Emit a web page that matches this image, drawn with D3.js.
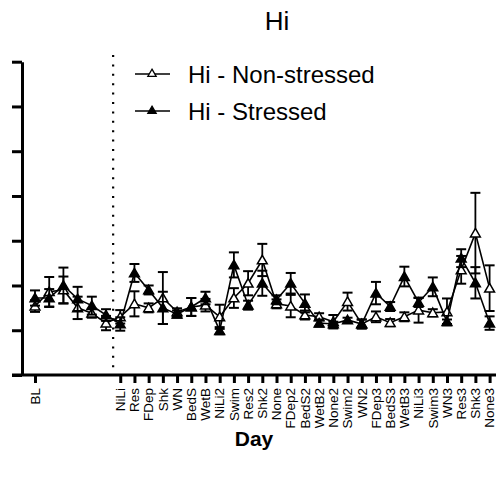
<!DOCTYPE html>
<html><head><meta charset="utf-8">
<script src="https://cdn.jsdelivr.net/npm/d3@7"></script>
<style>body{margin:0;background:#fff}svg{display:block}text{font-family:"Liberation Sans",Arial,sans-serif}</style>
</head><body><svg id="c" width="498" height="484"></svg>
<script>
const categories = ["BL","","","","","","NiLi","Res","FDep","Shk","WN","BedS","WetB","NiLi2","Swim","Res2","Shk2","None","FDep2","BedS2","WetB2","None2","Swim2","WN2","FDep3","BedS3","WetB3","NiLi3","Swim3","WN3","Res3","Shk3","None3"];
const nonStressed = [1.54,1.86,1.9,1.5,1.38,1.16,1.3,1.59,1.5,1.72,1.41,1.52,1.56,1.3,1.72,2.05,2.57,1.59,1.54,1.34,1.3,1.19,1.64,1.14,1.3,1.17,1.3,1.45,1.39,1.41,2.35,3.17,1.94];
const nonStressedErr = [0.13,0.33,0.3,0.25,0.1,0.16,0.15,0.28,0.1,0.58,0.08,0.2,0.14,0.27,0.22,0.27,0.36,0.1,0.25,0.1,0.08,0.15,0.2,0.1,0.12,0.08,0.1,0.28,0.08,0.3,0.31,0.9,0.51];
const stressed = [1.72,1.72,2.0,1.70,1.55,1.34,1.14,2.28,1.9,1.5,1.36,1.52,1.72,0.99,2.46,1.56,2.05,1.68,2.05,1.6,1.16,1.14,1.23,1.14,1.83,1.53,2.2,1.62,1.97,1.19,2.61,2.06,1.16];
const stressedErr = [0.17,0.2,0.4,0.27,0.2,0.13,0.15,0.2,0.1,0.36,0.08,0.2,0.14,0.08,0.28,0.1,0.28,0.1,0.23,0.2,0.08,0.05,0.05,0.1,0.25,0.1,0.22,0.1,0.21,0.05,0.2,0.35,0.15];
const yTicks = [0,1,2,3,4,5,6,7];
const seriesNames = ["Hi - Non-stressed","Hi - Stressed"];
const title = "Hi", xTitle = "Day";
const dividerAt = 5.5;

const svg = d3.select("#c");
const x = d3.scaleLinear().domain([0, categories.length-1]).range([35, 489.6]);
const y = d3.scaleLinear().domain([0, 7]).range([375, 61.7]);

svg.append("text").attr("x",277).attr("y",30).attr("text-anchor","middle").attr("font-size",26).text(title);

const yAx = svg.append("g").attr("transform","translate(22,0)")
  .call(d3.axisLeft(y).tickValues(yTicks).tickFormat("").tickSize(10).tickSizeOuter(0));
yAx.selectAll("path,line").attr("stroke","#000").attr("stroke-width",3);

const tickIdx = categories.map((c,i)=>i).filter(i=>categories[i]!=="");
const xAx = svg.append("g").attr("transform","translate(0,375)")
  .call(d3.axisBottom(x).tickValues(tickIdx).tickFormat(i=>categories[i]).tickSize(8).tickSizeOuter(0));
xAx.select(".domain").remove();
xAx.selectAll("line").attr("stroke","#000").attr("stroke-width",3);
xAx.selectAll("text").attr("font-size",13.5).attr("fill","#000")
  .attr("transform","rotate(-90) scale(1,0.9)").attr("text-anchor","end")
  .attr("x",-13).attr("y",0).attr("dy","0.35em");
svg.append("line").attr("x1",12).attr("x2",496).attr("y1",375).attr("y2",375).attr("stroke","#000").attr("stroke-width",3);

svg.append("line").attr("x1",x(dividerAt)).attr("x2",x(dividerAt)).attr("y1",55).attr("y2",373)
  .attr("stroke","#000").attr("stroke-width",2.2).attr("stroke-dasharray","2 7.4");

const tri = d3.symbol().type(d3.symbolTriangle).size(42);
function drawSeries(vals, errs, filled){
  const g = svg.append("g");
  const line = d3.line().x((d,i)=>x(i)).y(d=>y(d));
  g.append("path").attr("d",line(vals)).attr("fill","none").attr("stroke","#000").attr("stroke-width",1.6);
  vals.forEach((v,i)=>{
    const e = errs[i], cx = x(i);
    g.append("line").attr("x1",cx).attr("x2",cx).attr("y1",y(v-e)).attr("y2",y(v+e)).attr("stroke","#000").attr("stroke-width",1.8);
    [v-e,v+e].forEach(w=>g.append("line").attr("x1",cx-5).attr("x2",cx+5).attr("y1",y(w)).attr("y2",y(w)).attr("stroke","#000").attr("stroke-width",2));
  });
  vals.forEach((v,i)=>{
    g.append("path").attr("d",tri).attr("transform",`translate(${x(i)},${y(v)+1})`)
      .attr("fill",filled?"#000":"#fff").attr("stroke","#000").attr("stroke-width",1.5);
  });
}
drawSeries(nonStressed, nonStressedErr, false);
drawSeries(stressed, stressedErr, true);

const lg = svg.append("g");
[[74,false],[111,true]].forEach(([ly,f],k)=>{
  lg.append("line").attr("x1",135).attr("x2",170).attr("y1",ly).attr("y2",ly).attr("stroke","#000").attr("stroke-width",1.5);
  lg.append("path").attr("d",d3.symbol().type(d3.symbolTriangle).size(30)).attr("transform",`translate(152,${ly})`)
    .attr("fill",f?"#000":"#fff").attr("stroke","#000").attr("stroke-width",1.3);
  lg.append("text").attr("x",188).attr("y",ly+8.5).attr("font-size",24).text(seriesNames[k]);
});

svg.append("text").attr("x",254).attr("y",446).attr("text-anchor","middle").attr("font-size",21).attr("font-weight","bold").text(xTitle);
</script></body></html>
